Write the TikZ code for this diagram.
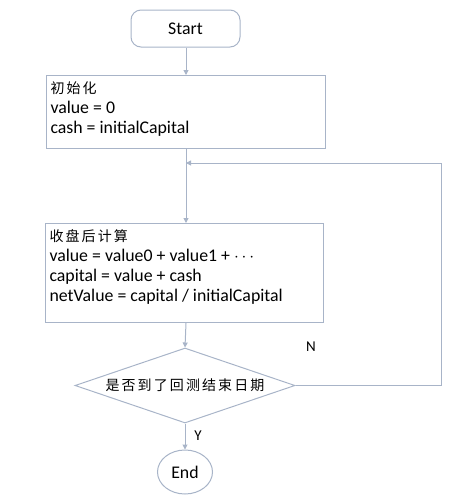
\documentclass[tikz,border=0pt]{standalone}
\usepackage{fontspec}
\setmainfont{Carlito}
\newfontfamily\cjk[LetterSpace=15]{Noto Sans CJK SC}
\usetikzlibrary{shapes.geometric,arrows.meta}
\definecolor{flowline}{RGB}{168,180,200}

\begin{document}
\begin{tikzpicture}[x=1pt,y=1pt,yscale=-1,xscale=1,
    every node/.style={font=\fontsize{17.8}{20}\selectfont, text=black},
    chinese/.style={font=\fontsize{14}{20}\selectfont\cjk},
    linebox/.style={draw=flowline, line width=1pt, anchor=north west, inner xsep=4pt, inner ysep=6.5pt},
    flowarrow/.style={draw=flowline, line width=1pt, -{Triangle[width=5pt,length=5pt]}}]
        \useasboundingbox (0,0) rectangle (459,499);

        \node [draw=flowline, line width=1pt, rounded corners=10pt, minimum width=109pt, minimum height=37pt] (start) at (185.5,28.5) {Start};
        \node [linebox] (init) at (46,75) {\parbox[t][60pt][t]{271pt}{{\fontsize{14}{20}\selectfont\cjk 初始化}\\value = 0\\cash = initialCapital}};
        \node [linebox] (calc) at (45,223) {\parbox[t][86pt][t]{270pt}{{\fontsize{14}{20}\selectfont\cjk 收盘后计算}\\value = value0 + value1 + $\cdots$\\capital = value + cash\\netValue = capital / initialCapital}};
        \node [draw=flowline, line width=1pt, diamond, aspect=2.93, minimum width=220pt, minimum height=75pt, inner sep=0pt, chinese] (check) at (185,385.5) {是否到了回测结束日期};
        \node [draw=flowline, line width=1pt, ellipse, minimum width=55pt, minimum height=44pt, inner sep=0pt] (end) at (185,472) {End};

        \coordinate (loopin) at (186,163);
        \coordinate (loopcorner) at (441,385.5);

        \draw [flowarrow] (start.south -| 186,0) -- (init.north -| 186,0);
        \draw [flowarrow] (init.south -| 186,0) -- (calc.north -| 186,0);
        \draw [flowarrow] (calc.south -| 186,0) -- (check.north);
        \draw [flowarrow] (check.south) -- (end.north);
        \draw [flowarrow] (check.east) -- (loopcorner) |- (loopin);

        \node [font=\fontsize{15}{18}\selectfont] (nolabel) at (311,347) {N};
        \node [font=\fontsize{15}{18}\selectfont] (yeslabel) at (198,436) {Y};
\end{tikzpicture}
\end{document}
